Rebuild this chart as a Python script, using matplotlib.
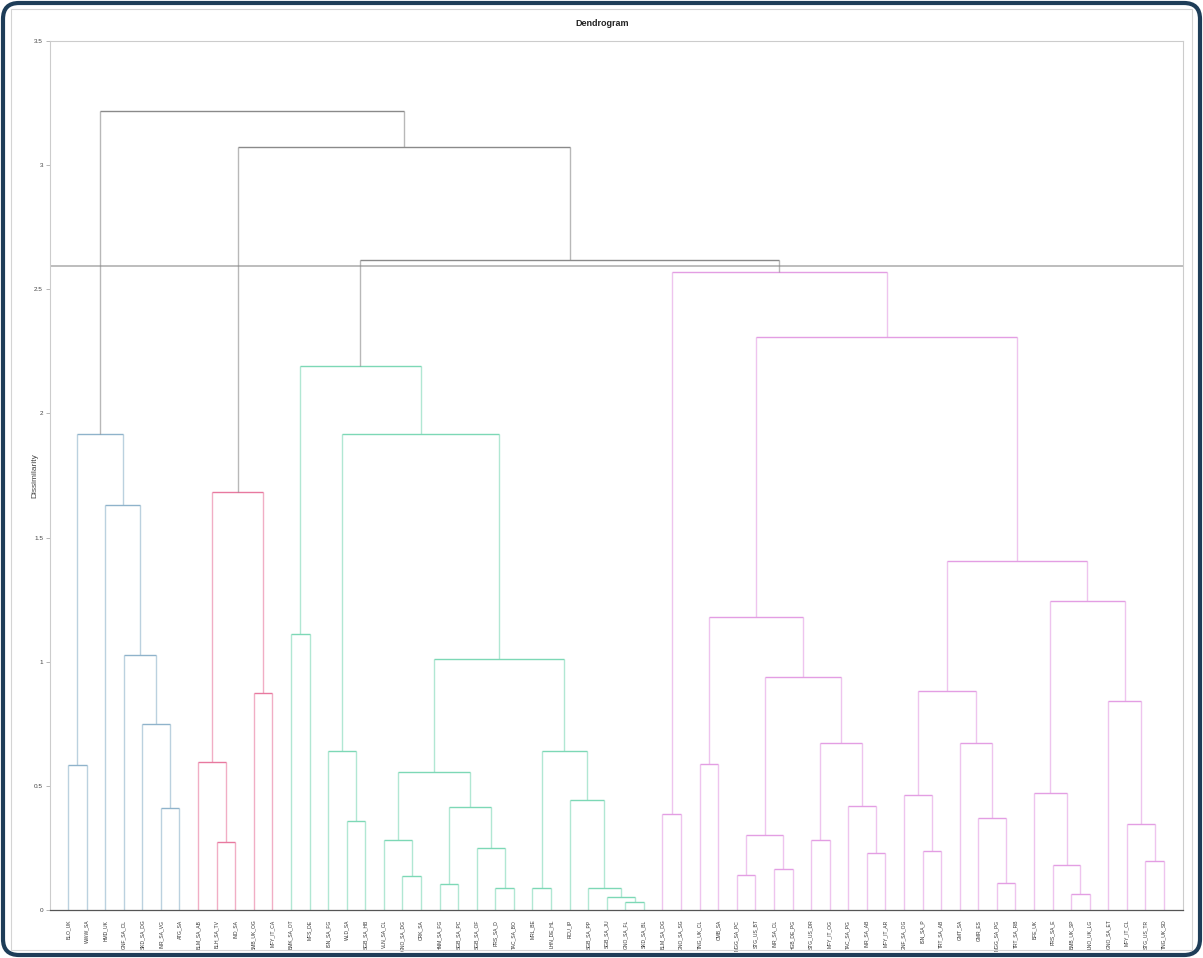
import matplotlib
matplotlib.use("Agg")
import matplotlib.pyplot as plt
from matplotlib.patches import FancyBboxPatch, Rectangle

plt.rcParams['font.family'] = ['Liberation Sans', 'DejaVu Sans']

# leaf labels, in dendrogram order
labels = ["BLO_UK", "WWW_SA", "HMD_UK", "GNF_SA_CL", "SKD_SA_DG", "INR_SA_VG", "ATG_SA",
          "BLM_SA_AB", "BLH_SA_TV", "IND_SA", "BMB_UK_OG", "MFY_IT_CA",
          "BMK_SA_OT", "MFS_DE", "ISN_SA_FG", "WLD_SA", "SGB_SA_HB", "VLN_SA_CL", "GNO_SA_DG",
          "CRK_SA", "HNM_SA_FG", "SGB_SA_PC", "SGB_SA_OF", "PRS_SA_D", "TAC_SA_BO", "MRL_BE",
          "LHN_DE_HL", "RCU_IP", "SGB_SA_PP", "SGB_SA_JU", "GNO_SA_FL", "SKD_SA_BL",
          "BLM_SA_DG", "GNO_SA_SG", "TNG_UK_CL", "CMB_SA", "MGG_SA_PC", "STG_US_BT", "INR_SA_CL",
          "HGB_DE_PG", "STG_US_DR", "MFY_IT_OG", "TAC_SA_PG", "INR_SA_AB", "MFY_IT_AR",
          "GNF_SA_OG", "ISN_SA_P", "TRT_SA_AB", "GMT_SA", "GMR_ES", "MGG_SA_PG", "TRT_SA_RB",
          "BFE_UK", "PRS_SA_E", "BMB_UK_SP", "LNO_UK_LG", "GNO_SA_ET", "MFY_IT_CL", "STG_US_TR",
          "TNG_UK_SD"]

# cluster of each leaf (0..3)
clusters = [0]*7 + [1]*5 + [2]*20 + [3]*28

# merges: node id = len(labels) + row number
left = [0, 5, 4, 3, 2, 60,
        8, 7, 10, 67,
        12, 15, 14, 18, 17, 20, 23, 22, 75, 74, 25, 30, 29, 28, 27, 80, 79, 72, 70,
        32, 34, 36, 38, 91, 40, 43, 42, 94, 93, 90, 46, 45, 50, 49, 48, 101, 54, 53, 52,
        58, 57, 56, 108, 105, 99, 89,
        88, 69, 65]
right = [1, 6, 61, 62, 63, 64,
         9, 66, 11, 68,
         13, 16, 71, 19, 73, 21, 24, 76, 77, 78, 26, 31, 81, 82, 83, 84, 85, 86, 87,
         33, 35, 37, 39, 92, 41, 44, 95, 96, 97, 98, 47, 100, 51, 102, 103, 104, 55, 106, 107,
         59, 109, 110, 111, 112, 113, 114,
         115, 116, 117]
heights = [0.584, 0.411, 0.749, 1.027, 1.631, 1.917,
           0.274, 0.596, 0.874, 1.683,
           1.112, 0.358, 0.640, 0.137, 0.282, 0.105, 0.089, 0.250, 0.415, 0.556, 0.089,
           0.032, 0.052, 0.089, 0.443, 0.640, 1.011, 1.917, 2.191,
           0.387, 0.588, 0.141, 0.165, 0.302, 0.282, 0.230, 0.419, 0.673, 0.938, 1.180,
           0.238, 0.463, 0.109, 0.371, 0.673, 0.882, 0.064, 0.181, 0.471, 0.197, 0.346,
           0.842, 1.244, 1.405, 2.308, 2.569,
           2.618, 3.073, 3.218]
cut_height = 2.594

cluster_colors = ["#8fb3cb", "#e8799f", "#7dd8b6", "#e39ee3"]
above_color = "#8a8a8a"

fig = plt.figure(figsize=(12.03, 9.58), dpi=100)

# frame
fig.patches.append(FancyBboxPatch((0.03, 0.03), 11.97, 9.52, boxstyle="round,pad=0,rounding_size=0.16",
                                  transform=fig.dpi_scale_trans, fill=False, edgecolor="#1e3d58",
                                  linewidth=3.0))
fig.patches.append(Rectangle((0.11, 0.08), 11.81, 9.41, transform=fig.dpi_scale_trans,
                             fill=False, edgecolor="#d4d4d4", linewidth=0.8))

ax = fig.add_axes([50/1203, 48/958, 1133/1203, 869/958])

n = len(labels)
xpos = {i: float(i) for i in range(n)}
ypos = {i: 0.0 for i in range(n)}
clus = {i: clusters[i] for i in range(n)}

for k in range(len(heights)):
    a, b, h = left[k], right[k], heights[k]
    node = n + k
    xa, xb = xpos[a], xpos[b]
    ya, yb = ypos[a], ypos[b]
    c = clus[a] if (clus[a] is not None and clus[a] == clus[b]) else None
    clus[node] = c
    col = cluster_colors[c] if c is not None else above_color
    ax.plot([xa, xa], [ya, h], color=col, lw=1.0, alpha=0.6, solid_capstyle='butt')
    ax.plot([xb, xb], [yb, h], color=col, lw=1.0, alpha=0.6, solid_capstyle='butt')
    ax.plot([xa, xb], [h, h], color=col, lw=1.0, solid_capstyle='butt')
    xpos[node] = (xa + xb) / 2
    ypos[node] = h

ax.axhline(cut_height, color="#bdbdbd", lw=1.4, zorder=0)

ax.set_xlim(-0.97, n - 1 + 1.02)
ax.set_ylim(0, 3.5)
ax.set_yticks([0, 0.5, 1, 1.5, 2, 2.5, 3, 3.5])
ax.set_yticklabels(["0", "0.5", "1", "1.5", "2", "2.5", "3", "3.5"])
ax.set_xticks(range(n))
ax.set_xticklabels(labels, rotation=90, fontsize=3.6, color="#333333")
ax.tick_params(axis='x', length=0, pad=7)
ax.tick_params(axis='y', labelsize=4.6, labelcolor="#444444", length=3, width=0.6,
               color="#aaaaaa", pad=2)
for s in ["left", "top", "right"]:
    ax.spines[s].set_color("#cccccc")
    ax.spines[s].set_linewidth(0.8)
ax.spines["bottom"].set_color("#555555")
ax.spines["bottom"].set_linewidth(0.9)

ax.set_ylabel("Dissimilarity", fontsize=6, color="#444444", labelpad=0)
ax.yaxis.set_label_coords(-12/1133, 0.5)
fig.text(602/1203, 1 - 23/958, "Dendrogram", ha="center", va="center", fontsize=6.5,
         fontweight="bold", color="#222222", family=["Liberation Sans Narrow", "Liberation Sans"])

fig.savefig("out.png", dpi=100)
